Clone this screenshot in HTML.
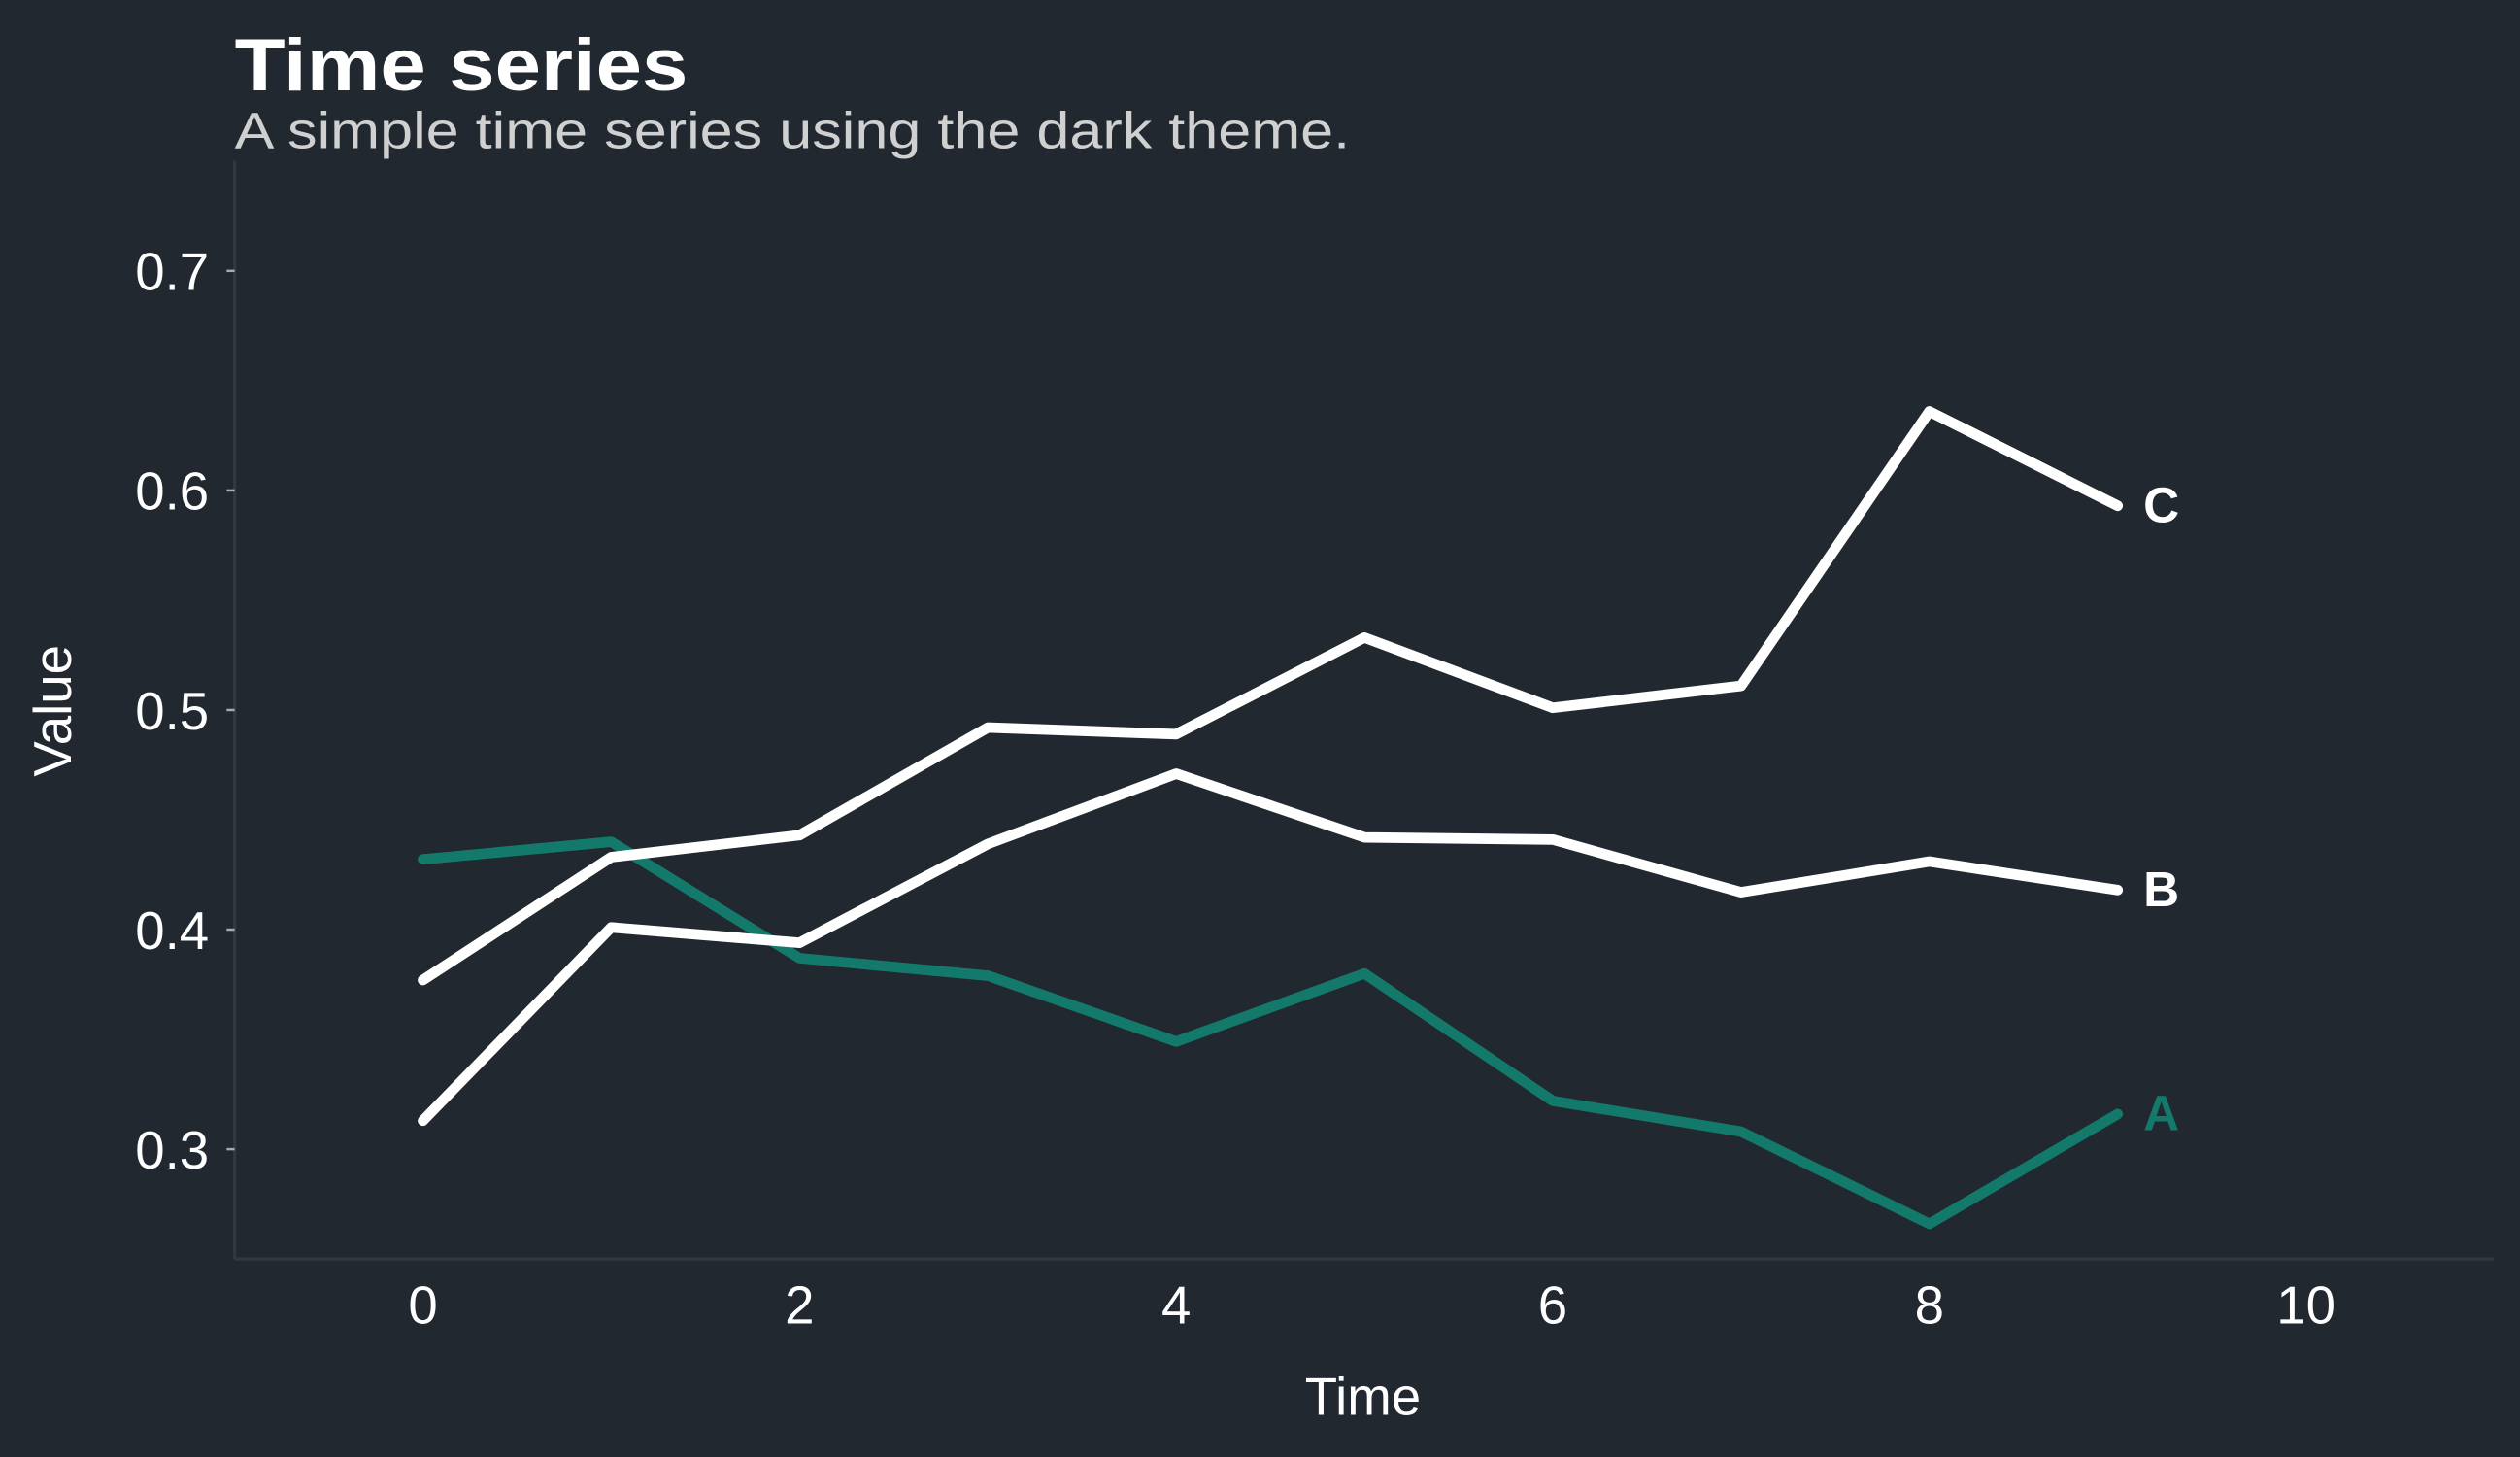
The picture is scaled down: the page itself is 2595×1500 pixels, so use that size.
<!DOCTYPE html>
<html><head><meta charset="utf-8"><style>
html,body{margin:0;padding:0;background:#212830;}
svg{display:block;font-family:"Liberation Sans",sans-serif;}
</style></head><body>
<svg id="chart" width="2595" height="1500" viewBox="0 0 1568 906" xmlns="http://www.w3.org/2000/svg">
<rect width="1568" height="906" fill="#212830"/>
<text x="146" y="56" font-size="46" font-weight="bold" fill="#ffffff" textLength="282" lengthAdjust="spacingAndGlyphs">Time series</text>
<text x="146" y="92" font-size="32" fill="#d0d0d0" textLength="694" lengthAdjust="spacingAndGlyphs">A simple time series using the dark theme.</text>
<g id="axes"></g>
<g id="series"></g>
<text x="848" y="880" font-size="33" fill="#ffffff" text-anchor="middle">Time</text>
<text transform="translate(44,442) rotate(-90)" font-size="33" fill="#ffffff" text-anchor="middle">Value</text>
</svg>
<script>
const times=[0,1,2,3,4,5,6,7,8,9];
const seriesA=[0.432,0.440,0.387,0.379,0.349,0.380,0.322,0.308,0.266,0.316];
const seriesB=[0.313,0.401,0.394,0.439,0.471,0.442,0.441,0.417,0.431,0.418];
const seriesC=[0.377,0.433,0.443,0.492,0.489,0.533,0.501,0.511,0.636,0.593];
const xTicks=[0,2,4,6,8,10];
const yTicks=[0.3,0.4,0.5,0.6,0.7];
const yTickLabels=["0.3","0.4","0.5","0.6","0.7"];
const NS="http://www.w3.org/2000/svg";
const X0=146,X1=1552,Y0=783,Y1=100,xmin=-1,xmax=11,ymin=0.25,ymax=0.75;
const sx=v=>X0+(v-xmin)/(xmax-xmin)*(X1-X0);
const sy=v=>Y0-(v-ymin)/(ymax-ymin)*(Y0-Y1);
function mk(tag,attrs,parent){const e=document.createElementNS(NS,tag);for(const k in attrs)e.setAttribute(k,attrs[k]);parent.appendChild(e);return e;}
const axes=document.getElementById('axes');
let e=mk('line',{x1:X0,y1:Y1,x2:X0,y2:Y0,stroke:'#303840','stroke-width':2},axes);


e=mk('line',{x1:X0,y1:Y0,x2:X1,y2:Y0,stroke:'#303840','stroke-width':2},axes);


xTicks.forEach(t=>{
 const tx=mk('text',{x:sx(t),y:823,'font-size':33,fill:'#fff','text-anchor':'middle'},axes);
 tx.textContent=t;
 
 
});
yTicks.forEach((t,i)=>{
 const tk=mk('line',{x1:X0-5,x2:X0,y1:sy(t),y2:sy(t),stroke:'#aaa','stroke-width':1.5},axes);
 
 
 const tx=mk('text',{x:130,y:sy(t)+12,'font-size':33,fill:'#fff','text-anchor':'end'},axes);
 tx.textContent=yTickLabels[i];
 
 
});
const sg=document.getElementById('series');
[[seriesA,'#137a6b','A'],[seriesB,'#ffffff','B'],[seriesC,'#ffffff','C']].forEach(([d,c,n])=>{
 const p=mk('polyline',{points:d.map((v,i)=>sx(times[i])+','+sy(v)).join(' '),fill:'none',stroke:c,'stroke-width':6.5,'stroke-linejoin':'round','stroke-linecap':'round'},sg);
 
 
 const last=d.length-1;
 const t=mk('text',{x:sx(times[last])+16,y:sy(d[last])+10,'font-size':31,'font-weight':'bold',fill:c},sg);
 t.textContent=n;
 
 
});
</script>
</body></html>
